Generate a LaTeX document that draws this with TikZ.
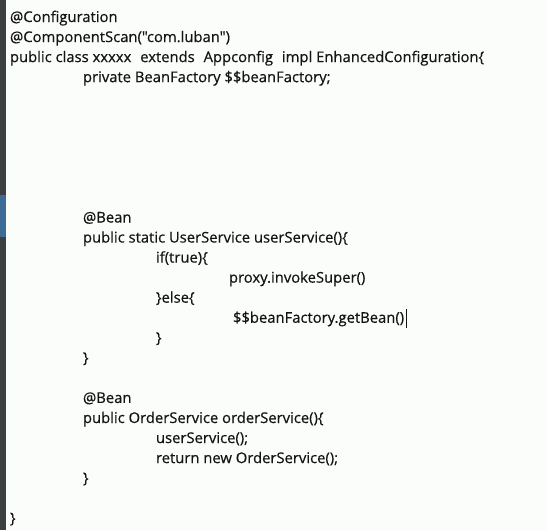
\documentclass[tikz,border=0pt]{standalone}
\usepackage{fontspec}
\setmainfont{Open Sans}
\newfontface\codefont{Open Sans}[RawFeature={embolden=0.5}]
\definecolor{bgc}{HTML}{FBFDFB}
\definecolor{txt}{HTML}{141414}
\definecolor{strip}{HTML}{3C3F41}
\definecolor{stripblue}{HTML}{3E6A96}
\begin{document}
\begin{tikzpicture}[x=1pt,y=-1pt,
  code/.style={anchor=base west,inner sep=0pt,outer sep=0pt,text=txt,font=\codefont\fontsize{14.8}{17}\selectfont}]
\useasboundingbox (0,0) rectangle (547,530);
\fill[bgc] (0,0) rectangle (547,530);
\fill[strip] (0,0) rectangle (6,530);
\fill[stripblue] (0,195) rectangle (6,237);
\def\bl#1{22+20.05*#1}
\node[code] (l0) at (10,{\bl{0}}) {@Configuration};
\node[code] (l1) at (10,{\bl{1}}) {@ComponentScan(\symbol{34}com.luban\symbol{34})};
\node[code] (l2) at (10,{\bl{2}}) {public class xxxxx\hspace{0.6em}extends\hspace{0.6em}Appconfig\hspace{0.6em}impl EnhancedConfiguration\{};
\node[code] (l3) at (83,{\bl{3}}) {private BeanFactory \$\$beanFactory;};
\node[code] (l10) at (83,{\bl{10}}) {@Bean};
\node[code] (l11) at (83,{\bl{11}}) {public static UserService userService()\{};
\node[code] (l12) at (156,{\bl{12}}) {if(true)\{};
\node[code] (l13) at (229,{\bl{13}}) {proxy.invokeSuper()};
\node[code] (l14) at (156,{\bl{14}}) {\}else\{};
\node[code] (l15) at (233,{\bl{15}}) {\$\$beanFactory.getBean()};
\draw[txt,line width=0.8pt] (l15.base east) ++(2,-14) coordinate (c1) -- ++(0,19) coordinate (c2);
\node[code] (l16) at (156,{\bl{16}}) {\}};
\node[code] (l17) at (83,{\bl{17}}) {\}};
\node[code] (l19) at (83,{\bl{19}}) {@Bean};
\node[code] (l20) at (83,{\bl{20}}) {public OrderService orderService()\{};
\node[code] (l21) at (156,{\bl{21}}) {userService();};
\node[code] (l22) at (156,{\bl{22}}) {return new OrderService();};
\node[code] (l23) at (83,{\bl{23}}) {\}};
\node[code] (l25) at (10,{\bl{25}}) {\}};
\end{tikzpicture}
\end{document}
